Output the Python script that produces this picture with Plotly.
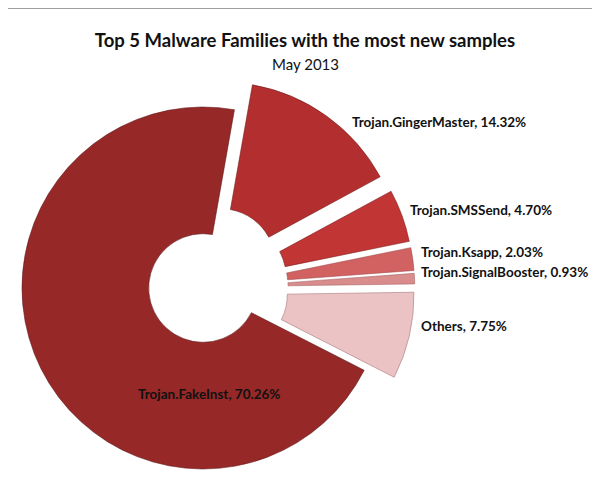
import math
import plotly.graph_objects as go

# ---- data ----
families = ["Trojan.GingerMaster", "Trojan.SMSSend", "Trojan.Ksapp",
            "Trojan.SignalBooster", "Others", "Trojan.FakeInst"]
shares = [14.32, 4.70, 2.03, 0.93, 7.75, 70.26]
pulls = [0.17, 0.17, 0.17, 0.17, 0.17, 0.0]
colors = ["#B32F2F", "#C23535", "#D26262", "#D88C8C", "#EBC3C5", "#972828"]
edge_colors = ["rgba(110,25,25,0.55)", "rgba(120,25,25,0.55)", "rgba(150,60,60,0.5)",
               "rgba(160,90,90,0.5)", "rgba(170,120,120,0.6)", "rgba(90,20,20,0.55)"]
label_pos = [(342, 114, "left"), (400, 202, "left"), (411, 244, "left"),
             (411, 264, "left"), (411, 318, "left"), (201, 386, "center")]

title = "Top 5 Malware Families with the most new samples"
subtitle = "May 2013"

# ---- layout geometry (pixels) ----
W, H = 600, 487
CX, CY, R = 195, 280, 181
HOLE = 0.30
ROTATION = 10  # degrees clockwise from 12 o'clock

total = sum(shares)
fig = go.Figure()

start = ROTATION
for i, (name, v) in enumerate(zip(families, shares)):
    span = v / total * 360.0
    mid = math.radians(start + span / 2)
    start += span
    d = pulls[i] * R
    cx = CX + d * math.sin(mid)
    cy = CY - d * math.cos(mid)
    cols = ["rgba(0,0,0,0)"] * len(shares)
    cols[i] = colors[i]
    lw = [0] * len(shares)
    lw[i] = 1
    lc = ["rgba(0,0,0,0)"] * len(shares)
    lc[i] = edge_colors[i]
    fig.add_trace(go.Pie(
        labels=families,
        values=shares,
        sort=False,
        direction="clockwise",
        rotation=ROTATION,
        hole=HOLE,
        textinfo="none",
        showlegend=False,
        marker=dict(colors=cols, line=dict(color=lc, width=lw)),
        domain=dict(x=[(cx - R) / W, (cx + R) / W],
                    y=[1 - (cy + R) / H, 1 - (cy - R) / H]),
        name=name,
    ))

label_font = dict(family="Lato, 'Open Sans', sans-serif", size=13.5, color="#111111")
annotations = []
for name, v, (px, py, anchor) in zip(families, shares, label_pos):
    annotations.append(dict(
        text=f"<b>{name}, {v:.2f}%</b>",
        x=px / W, y=1 - py / H, xref="paper", yref="paper",
        xanchor=anchor, yanchor="middle", showarrow=False, font=label_font,
    ))

annotations.append(dict(
    text=subtitle, x=297 / W, y=1 - 56 / H, xref="paper", yref="paper",
    xanchor="center", yanchor="middle", showarrow=False,
    font=dict(family="Lato, 'Open Sans', sans-serif", size=15, color="#111111"),
))

fig.update_layout(
    width=W, height=H,
    margin=dict(l=0, r=0, t=0, b=0),
    paper_bgcolor="white",
    plot_bgcolor="white",
    title=dict(text=f"<b>{title}</b>", x=297 / W, xanchor="center",
               y=1 - 33 / H, yanchor="middle", yref="container",
               font=dict(family="Lato, 'Open Sans', sans-serif", size=18.5, color="#111111")),
    annotations=annotations,
    shapes=[
        dict(type="line", xref="paper", yref="paper", x0=0, x1=1, y0=1, y1=1,
             line=dict(color="#A0A0A0", width=2)),
        dict(type="line", xref="paper", yref="paper", x0=0, x1=1,
             y0=2 / H, y1=2 / H, line=dict(color="#A0A0A0", width=2)),
    ],
)

fig.write_html("out.html")
